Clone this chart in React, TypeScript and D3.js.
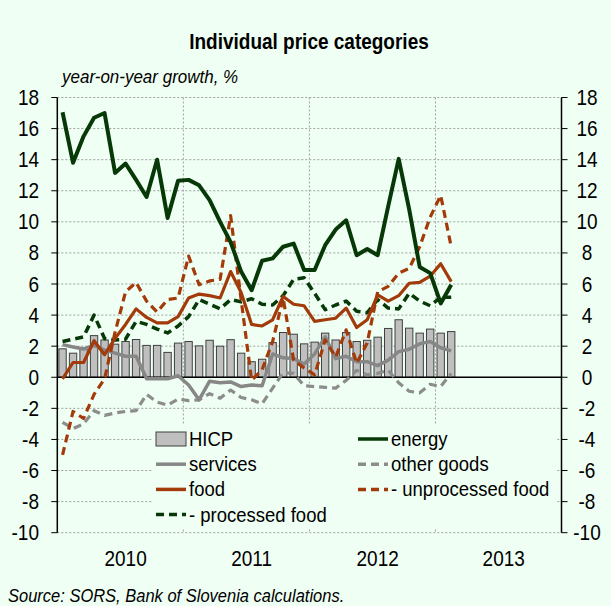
import React from 'react';
import * as d3 from 'd3';

// ---- data (monthly, Jan 2010 – Feb 2013) ----
const years = ['2010', '2011', '2012', '2013'];
const yTicks = [18, 16, 14, 12, 10, 8, 6, 4, 2, 0, -2, -4, -6, -8, -10];

const hicp = [1.83, 1.55, 1.9, 2.68, 2.4, 2.13, 2.3, 2.43, 2.05, 2.05, 1.6, 2.2,
  2.3, 2.02, 2.38, 2.0, 2.42, 1.55, 1.0, 1.16, 2.23, 2.88, 2.77, 2.15,
  2.26, 2.84, 2.4, 2.88, 2.3, 2.38, 2.58, 3.14, 3.7, 3.16, 2.84, 3.1, 2.84, 2.94];
const energy = [17.05, 13.8, 15.5, 16.7, 17.0, 13.15, 13.75, 12.7, 11.6, 14.0, 10.25, 12.65,
  12.7, 12.35, 11.4, 10.0, 8.7, 6.8, 5.6, 7.5, 7.65, 8.4, 8.6, 6.9,
  6.9, 8.5, 9.5, 10.1, 7.85, 8.25, 7.85, 11.0, 14.05, 10.8, 7.1, 6.7, 4.75, 5.95];
const services = [2.1, 1.95, 1.82, 2.05, 1.75, 1.55, 1.35, 1.35, -0.1, -0.1, -0.1, 0.1,
  -0.5, -1.45, -0.25, -0.35, -0.3, -0.6, -0.5, -0.55, 1.5, 1.25, 1.2, 0.85,
  1.5, 2.6, 1.2, 1.35, 1.0, 1.0, 0.75, 1.1, 1.65, 1.8, 2.15, 2.3, 1.9, 1.7];
const otherGoods = [-2.9, -3.3, -3.0, -2.15, -2.45, -2.3, -2.2, -2.15, -1.1, -1.6, -1.8, -1.4,
  -1.5, -1.45, -1.05, -1.35, -0.82, -1.3, -1.45, -1.7, -0.7, 0.3, 0.25, -0.55,
  -0.6, -0.65, -0.7, -0.2, 0.45, 0.15, 0.25, 0.45, -0.35, -0.9, -1.0, -0.45, -0.6, 0.25];
const food = [-0.1, 0.95, 0.95, 2.35, 1.45, 2.5, 3.4, 4.4, 3.85, 3.5, 3.5, 3.9,
  5.1, 5.35, 5.25, 5.1, 6.8, 5.45, 3.4, 3.3, 3.7, 5.2, 4.7, 4.6,
  3.6, 3.7, 3.8, 4.45, 3.2, 3.7, 5.3, 4.9, 5.25, 6.05, 6.1, 6.5, 7.3, 6.15];
const unprocessedFood = [-5.0, -2.2, -2.65, -1.1, -0.1, 2.9, 5.5, 6.1, 4.9, 4.2, 5.0, 5.1,
  7.8, 5.95, 6.2, 6.3, 10.4, 5.0, -0.2, 0.5, 2.3, 5.1, 1.1, 0.6,
  0.15, 2.4, 1.3, 3.05, 0.9, 2.2, 5.5, 5.85, 6.7, 7.0, 8.4, 10.3, 11.7, 8.4];
const processedFood = [2.3, 2.45, 2.6, 4.0, 2.5, 2.4, 2.45, 3.6, 3.4, 3.1, 2.85, 3.3,
  3.9, 5.0, 4.7, 4.4, 5.0, 4.85, 5.05, 4.7, 4.65, 5.25, 6.3, 6.4,
  5.4, 4.35, 4.65, 4.9, 4.25, 4.15, 5.0, 4.45, 4.4, 5.4, 4.9, 4.6, 5.15, 5.15];

// ---- styling ----
const BG = '#effff3';
const GREEN = '#073807';
const BROWN = '#a33a0a';
const GRAY = '#878787';
const GRAY2 = '#8c8c8c';
const FONT = 'Liberation Sans, Arial, sans-serif';
const SY = 1.12;

const W = 611, H = 606;
const L = 57.3, R = 561.5, TOP = 97.5, BOT = 532.7;

const allMonths = d3.timeMonth.range(new Date(2010, 0, 1), new Date(2014, 0, 1));
const dataMonths = allMonths.slice(0, hicp.length);

const x = d3.scaleBand<Date>().domain(allMonths).range([L, R]).paddingInner(0.3).paddingOuter(0.15);
const y = d3.scaleLinear().domain([-10, 18]).range([BOT, TOP]);
const cx = (d: Date) => (x(d) as number) + x.bandwidth() / 2;

type SeriesDef = { name: string; values: number[]; color: string; dash?: string; width: number };
const lineSeries: SeriesDef[] = [
  { name: 'other goods', values: otherGoods, color: GRAY2, dash: '8,5', width: 3.2 },
  { name: 'services', values: services, color: GRAY, width: 3.5 },
  { name: 'processed food', values: processedFood, color: GREEN, dash: '8,5', width: 3.5 },
  { name: 'unprocessed food', values: unprocessedFood, color: BROWN, dash: '8,5', width: 3.2 },
  { name: 'food', values: food, color: BROWN, width: 3.2 },
  { name: 'energy', values: energy, color: GREEN, width: 4 },
];

const T = ({ x: tx, y: ty, size, anchor = 'start', weight = 'normal', italic = false, children }: any) => (
  <text
    transform={`translate(${tx},${ty}) scale(1,${SY})`}
    fontSize={size}
    textAnchor={anchor}
    fontWeight={weight}
    fontStyle={italic ? 'italic' : 'normal'}
    fontFamily={FONT}
    fill="#000"
  >
    {children}
  </text>
);

const legendRows = [
  [{ label: 'HICP', kind: 'bar' }, { label: 'energy', color: GREEN }],
  [{ label: 'services', color: GRAY }, { label: 'other goods', color: GRAY2, dash: '8,5' }],
  [{ label: 'food', color: BROWN }, { label: '- unprocessed food', color: BROWN, dash: '8,5' }],
  [{ label: '- processed food', color: GREEN, dash: '8,5' }],
];

export default function App() {
  const line = d3.line<number>()
    .x((_, i) => cx(dataMonths[i]))
    .y((v) => y(v));
  const bw = x.bandwidth();
  const step = x.step();
  const yearBoundaries = years.slice(1).map((yr) => new Date(+yr, 0, 1));

  return (
    <svg width={W} height={H} style={{ position: 'absolute', left: 0, top: 0, background: BG }}>
      <rect x={0} y={0} width={W} height={H} fill={BG} />
      <T x={309} y={49.3} size={19} weight="bold" anchor="middle">Individual price categories</T>
      <T x={62} y={83} size={17} italic>year-on-year growth, %</T>

      {/* horizontal gridlines */}
      {yTicks.map((t) => (
        <line key={'g' + t} x1={L} x2={R} y1={y(t)} y2={y(t)} stroke="#a0a0a0" strokeDasharray="2,2" strokeWidth={1} />
      ))}
      {/* vertical gridlines at year boundaries */}
      {yearBoundaries.map((d, i) => {
        const xv = (x(d) as number) - (step - bw) / 2;
        return <line key={'v' + i} x1={xv} x2={xv} y1={TOP} y2={BOT} stroke="#a0a0a0" strokeDasharray="2,2" strokeWidth={1} />;
      })}

      {/* HICP bars */}
      {hicp.map((v, i) => (
        <rect key={'b' + i} x={x(dataMonths[i]) as number} width={bw}
          y={Math.min(y(v), y(0))} height={Math.abs(y(v) - y(0))}
          fill="#bfbfbf" stroke="#404040" strokeWidth={1} />
      ))}

      {/* zero line */}
      <line x1={L} x2={R} y1={y(0)} y2={y(0)} stroke="#000" strokeWidth={1.5} />

      {lineSeries.map((s) => (
        <path key={s.name} d={line(s.values) || ''} fill="none" stroke={s.color}
          strokeWidth={s.width} strokeDasharray={s.dash} strokeLinejoin="round" />
      ))}

      {/* legend */}
      <rect x={152} y={424} width={404} height={104} fill={BG} />
      {legendRows.map((row, ri) =>
        row.map((it: any, ci) => {
          const lx = ci === 0 ? 156 : 358;
          const ly = 439 + ri * 25.2;
          return (
            <g key={ri + '-' + ci}>
              {it.kind === 'bar' ? (
                <rect x={lx} y={ly - 7} width={30} height={14} fill="#bfbfbf" stroke="#404040" strokeWidth={1} />
              ) : (
                <line x1={lx} x2={lx + 30} y1={ly} y2={ly} stroke={it.color} strokeWidth={3.5} strokeDasharray={it.dash} />
              )}
              <T x={lx + 33} y={ly + 7} size={18.5}>{it.label}</T>
            </g>
          );
        })
      )}

      {/* axes */}
      <line x1={L} x2={L} y1={TOP} y2={BOT} stroke="#000" strokeWidth={1.5} />
      <line x1={R} x2={R} y1={TOP} y2={BOT} stroke="#000" strokeWidth={1.5} />
      {yTicks.map((t) => (
        <g key={'t' + t}>
          <line x1={L - 6} x2={L} y1={y(t)} y2={y(t)} stroke="#000" strokeWidth={1} />
          <line x1={R} x2={R + 6} y1={y(t)} y2={y(t)} stroke="#000" strokeWidth={1} />
          <T x={39} y={y(t) + 7.5} size={19} anchor="end">{String(t)}</T>
          <T x={587} y={y(t) + 7.5} size={19} anchor="middle">{String(t)}</T>
        </g>
      ))}

      {/* x-axis year labels at July of each year */}
      {years.map((yr) => (
        <T key={yr} x={cx(new Date(+yr, 6, 1))} y={566} size={19} anchor="middle">{yr}</T>
      ))}

      <T x={8} y={602} size={16.5} italic>Source: SORS, Bank of Slovenia calculations.</T>
    </svg>
  );
}
